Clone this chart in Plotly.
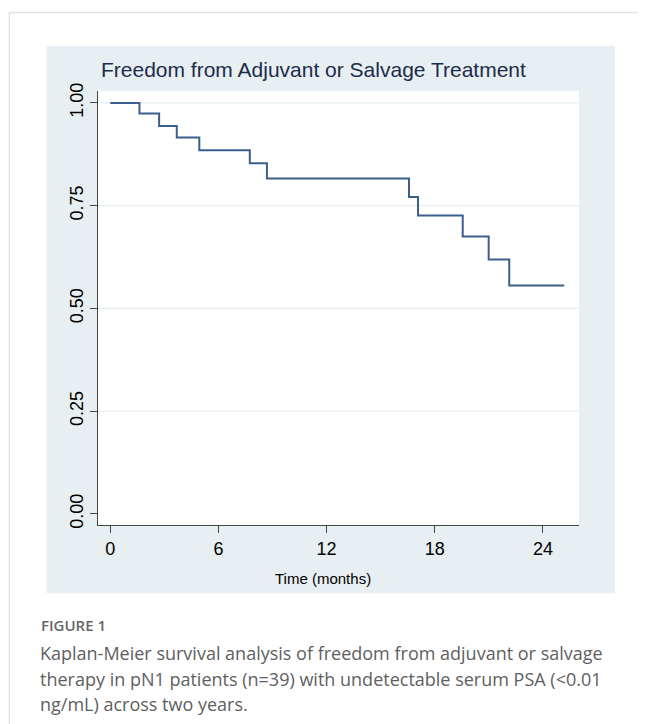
import plotly.graph_objects as go

# ---- data ----
time_months = [0, 1.62, 2.71, 3.69, 4.94, 7.74, 8.69, 16.57, 17.07, 19.55, 20.99, 22.13, 25.18]
survival = [1.0, 0.974, 0.944, 0.916, 0.885, 0.853, 0.816, 0.771, 0.726, 0.675, 0.619, 0.556, 0.556]
x_ticks = [0, 6, 12, 18, 24]
y_ticks = [0.0, 0.25, 0.50, 0.75, 1.00]
grid_vals = [0.25, 0.50, 0.75, 1.00]
chart_title = "Freedom from Adjuvant or Salvage Treatment"
x_title = "Time (months)"
caption_head = "FIGURE 1"
caption_lines = [
    "Kaplan-Meier survival analysis of freedom from adjuvant or salvage",
    "therapy in pN1 patients (n=39) with undetectable serum PSA (<0.01",
    "ng/mL) across two years.",
]

W, H = 646, 724
OFF = 8  # page body margin
L, R, T, B = 90, 571, 83, 517  # plot area in figure pixels


def px(x):
    return (x - OFF - L) / (R - L)


def py(y):
    return (B - (y - OFF)) / (B - T)


fig = go.Figure()
fig.add_trace(go.Scatter(
    x=time_months, y=survival, mode="lines", line_shape="hv",
    line=dict(color="#3b5f8c", width=2), showlegend=False, hoverinfo="x+y",
))

shapes = [
    # card border
    dict(type="line", xref="paper", yref="paper", x0=px(9.3), x1=px(W + 20), y0=py(12.7), y1=py(12.7),
         line=dict(color="#d9d9d9", width=1), layer="below"),
    dict(type="line", xref="paper", yref="paper", x0=px(9.3), x1=px(9.3), y0=py(12.7), y1=py(H + 20),
         line=dict(color="#d9d9d9", width=1), layer="below"),
    # chart background
    dict(type="rect", xref="paper", yref="paper", x0=px(46.5), x1=px(615), y0=py(45.7), y1=py(593.3),
         fillcolor="#e8eff2", line=dict(width=0), layer="below"),
    # plot area
    dict(type="rect", xref="paper", yref="paper", x0=0, x1=1, y0=0, y1=1,
         fillcolor="#ffffff", line=dict(width=0), layer="below"),
]
for g in grid_vals:
    shapes.append(dict(type="line", xref="paper", yref="y", x0=0, x1=1, y0=g, y1=g,
                       line=dict(color="#e4edf0", width=1.2), layer="below"))

annotations = [
    dict(text=chart_title, xref="paper", yref="paper", x=px(313.5), y=py(69.5),
         xanchor="center", yanchor="middle", showarrow=False,
         font=dict(family="Liberation Sans, Arial", size=21, color="#1c2b4b")),
    dict(text=x_title, xref="paper", yref="paper", x=px(323), y=py(578),
         xanchor="center", yanchor="middle", showarrow=False,
         font=dict(family="Liberation Sans, Arial", size=15, color="#000000")),
    dict(text=caption_head, xref="paper", yref="paper", x=px(39), y=py(625),
         xanchor="left", yanchor="middle", showarrow=False,
         font=dict(family="Open Sans", size=15, color="#666666", weight=600)),
]
for i, line in enumerate(caption_lines):
    annotations.append(dict(text=line, xref="paper", yref="paper", x=px(38), y=py(653 + 25.5 * i),
                            xanchor="left", yanchor="middle", showarrow=False,
                            font=dict(family="Open Sans", size=18, color="#606060")))

fig.update_layout(
    width=W, height=H,
    margin=dict(l=L, r=W - R, t=T, b=H - B, pad=0),
    paper_bgcolor="#ffffff", plot_bgcolor="rgba(0,0,0,0)",
    shapes=shapes, annotations=annotations,
    xaxis=dict(range=[-0.68, 26.0], tickvals=x_ticks, ticktext=[str(v) for v in x_ticks],
               showgrid=False, zeroline=False, showline=True, linecolor="#444444", linewidth=1,
               ticks="outside", ticklen=7, tickcolor="#444444",
               tickfont=dict(family="Liberation Sans, Arial", size=18, color="#000000")),
    yaxis=dict(range=[-0.0268, 1.029], tickvals=y_ticks, ticktext=[f"{v:.2f}" for v in y_ticks],
               tickangle=-90, showgrid=False, zeroline=False, showline=True, linecolor="#444444",
               linewidth=1, ticks="outside", ticklen=7, tickcolor="#444444",
               tickfont=dict(family="Liberation Sans, Arial", size=18, color="#000000")),
)

fig.write_html("out.html")
